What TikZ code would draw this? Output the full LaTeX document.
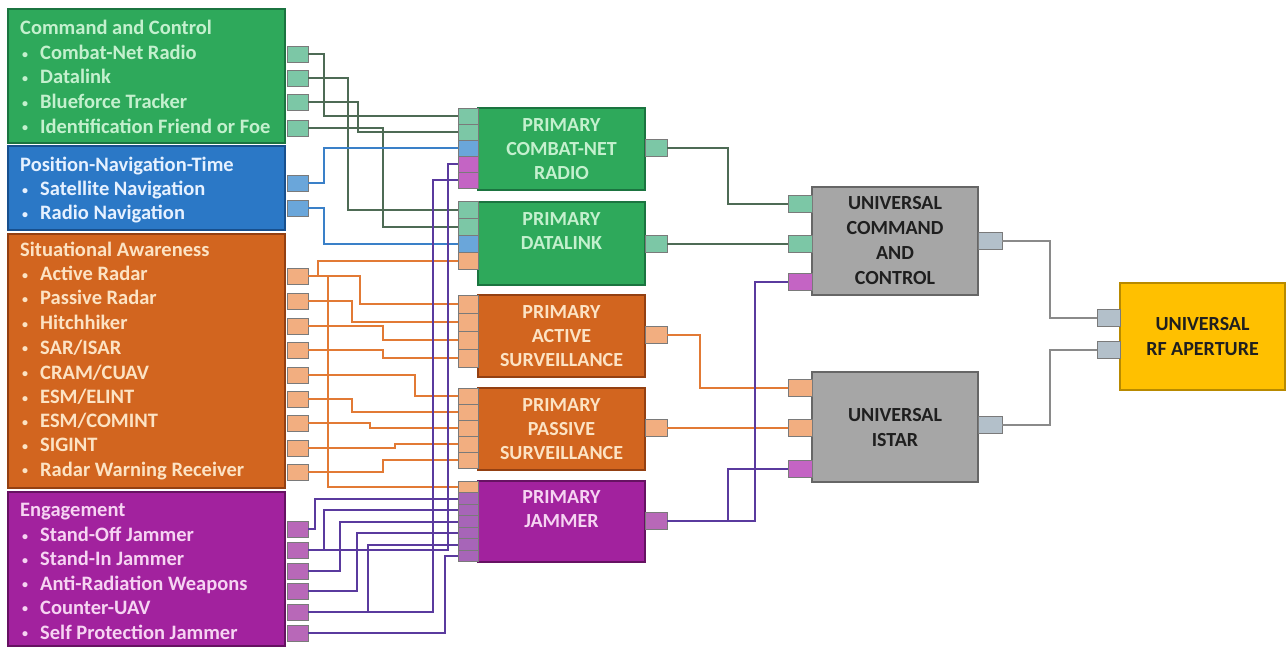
\documentclass[tikz,border=0pt]{standalone}
\usepackage{fontspec}
\setmainfont{Carlito}
\definecolor{gbox}{HTML}{2EA95B}
\definecolor{gboxd}{HTML}{1B7440}
\definecolor{gtxt}{HTML}{C4F0CE}
\definecolor{bbox}{HTML}{2B78C6}
\definecolor{bboxd}{HTML}{18508E}
\definecolor{btxt}{HTML}{E6F1FF}
\definecolor{obox}{HTML}{D2651F}
\definecolor{oboxd}{HTML}{934012}
\definecolor{otxt}{HTML}{FCE3C4}
\definecolor{mbox}{HTML}{A2229E}
\definecolor{mboxd}{HTML}{661262}
\definecolor{mtxt}{HTML}{F6D4F2}
\definecolor{graybox}{HTML}{A6A6A6}
\definecolor{grayboxd}{HTML}{666666}
\definecolor{ybox}{HTML}{FFC000}
\definecolor{yboxd}{HTML}{B88A00}
\definecolor{gpc}{HTML}{7CC7A6}
\definecolor{bpc}{HTML}{6AA6DA}
\definecolor{opc}{HTML}{F2AE80}
\definecolor{ppc}{HTML}{B868B8}
\definecolor{mpc}{HTML}{C464C4}
\definecolor{jpc}{HTML}{A765B8}
\definecolor{kpc}{HTML}{B3C0CA}
\definecolor{portb}{HTML}{7A7A7A}
\definecolor{glc}{HTML}{4E6B55}
\definecolor{blc}{HTML}{3A80C8}
\definecolor{olc}{HTML}{E27A35}
\definecolor{plc}{HTML}{5A3A9E}
\definecolor{klc}{HTML}{8A8A8A}
\tikzset{
  fnt/.style={font=\fontsize{20}{24}\selectfont\bfseries},
  lfnt/.style={font=\fontsize{20.5}{24}\selectfont\bfseries},
  panelbox/.style={line width=2pt, inner sep=0pt, minimum width=277pt},
  midbox/.style={line width=2.2pt, inner sep=0pt, minimum width=167pt},
  unibox/.style={line width=2.2pt, inner sep=0pt, minimum width=166pt, align=center, text=black!88, font=\fontsize{20}{25}\selectfont\bfseries},
  itm/.style={lfnt, anchor=base west, inner sep=0pt},
  midtxt/.style={fnt, anchor=north, align=center, inner sep=0pt},
  port/.style={draw=portb, line width=0.8pt, inner sep=0pt},
  lport/.style={port, minimum width=21pt, minimum height=16pt},
  iport/.style={port, minimum width=20pt},
  oport/.style={port, minimum width=22pt, minimum height=17pt},
  uport/.style={port, minimum width=24pt, minimum height=17pt},
  gl/.style={draw=glc, line width=2pt},
  bl/.style={draw=blc, line width=2pt},
  ol/.style={draw=olc, line width=2pt},
  pl/.style={draw=plc, line width=2pt},
  kl/.style={draw=klc, line width=2pt},
}
\newcommand{\bul}{\makebox[18pt][l]{\raisebox{1.5pt}{\fontsize{12}{12}\selectfont\textbullet}}}
\begin{document}
\begin{tikzpicture}[x=1pt,y=-1pt]
\fill[white] (0,0) rectangle (1287,649);
\useasboundingbox (0,0) rectangle (1287,649);

% ---------- left panels ----------
\node[panelbox, fill=gbox, draw=gboxd, minimum height=134pt] (ccp) at (146.5,76) {};
\node[panelbox, fill=bbox, draw=bboxd, minimum height=84pt] (pnp) at (146.5,187.5) {};
\node[panelbox, fill=obox, draw=oboxd, minimum height=254pt] (sap) at (146.5,361) {};
\node[panelbox, fill=mbox, draw=mboxd, minimum height=154pt] (enp) at (146.5,569) {};

\node[itm, text=gtxt] (cct) at (20,34.5) {Command and Control};
\node[itm, text=gtxt] (cc1) at (22,59.5) {\bul Combat-Net Radio};
\node[itm, text=gtxt] (cc2) at (22,83.5) {\bul Datalink};
\node[itm, text=gtxt] (cc3) at (22,108.5) {\bul Blueforce Tracker};
\node[itm, text=gtxt] (cc4) at (22,133) {\bul Identification Friend or Foe};

\node[itm, text=btxt] (pnt) at (20,171.5) {Position-Navigation-Time};
\node[itm, text=btxt] (pn1) at (22,195.5) {\bul Satellite Navigation};
\node[itm, text=btxt] (pn2) at (22,219.5) {\bul Radio Navigation};

\node[itm, text=otxt] (sat) at (20,256.5) {Situational Awareness};
\node[itm, text=otxt] (sa1) at (22,280.5) {\bul Active Radar};
\node[itm, text=otxt] (sa2) at (22,304.5) {\bul Passive Radar};
\node[itm, text=otxt] (sa3) at (22,329.5) {\bul Hitchhiker};
\node[itm, text=otxt] (sa4) at (22,354) {\bul SAR/ISAR};
\node[itm, text=otxt] (sa5) at (22,379) {\bul CRAM/CUAV};
\node[itm, text=otxt] (sa6) at (22,403.5) {\bul ESM/ELINT};
\node[itm, text=otxt] (sa7) at (22,427.5) {\bul ESM/COMINT};
\node[itm, text=otxt] (sa8) at (22,451.5) {\bul SIGINT};
\node[itm, text=otxt] (sa9) at (22,476) {\bul Radar Warning Receiver};

\node[itm, text=mtxt] (ent) at (20,516.5) {Engagement};
\node[itm, text=mtxt] (en1) at (22,541.5) {\bul Stand-Off Jammer};
\node[itm, text=mtxt] (en2) at (22,565.5) {\bul Stand-In Jammer};
\node[itm, text=mtxt] (en3) at (22,590) {\bul Anti-Radiation Weapons};
\node[itm, text=mtxt] (en4) at (22,614) {\bul Counter-UAV};
\node[itm, text=mtxt] (en5) at (22,639) {\bul Self Protection Jammer};

% left ports
\node[lport, fill=gpc] (gp1) at (297.5,54) {};
\node[lport, fill=gpc] (gp2) at (297.5,78) {};
\node[lport, fill=gpc] (gp3) at (297.5,102) {};
\node[lport, fill=gpc] (gp4) at (297.5,128) {};
\node[lport, fill=bpc] (bp1) at (297.5,183) {};
\node[lport, fill=bpc] (bp2) at (297.5,208) {};
\node[lport, fill=opc] (op1) at (297.5,276) {};
\node[lport, fill=opc] (op2) at (297.5,301) {};
\node[lport, fill=opc] (op3) at (297.5,326) {};
\node[lport, fill=opc] (op4) at (297.5,350) {};
\node[lport, fill=opc] (op5) at (297.5,375) {};
\node[lport, fill=opc] (op6) at (297.5,399) {};
\node[lport, fill=opc] (op7) at (297.5,423) {};
\node[lport, fill=opc] (op8) at (297.5,448) {};
\node[lport, fill=opc] (op9) at (297.5,472) {};
\node[lport, fill=ppc] (pp1) at (297.5,529) {};
\node[lport, fill=ppc] (pp2) at (297.5,550) {};
\node[lport, fill=ppc] (pp3) at (297.5,571) {};
\node[lport, fill=ppc] (pp4) at (297.5,591) {};
\node[lport, fill=ppc] (pp5) at (297.5,612) {};
\node[lport, fill=ppc] (pp6) at (297.5,633) {};

% ---------- primary boxes ----------
\node[midbox, fill=gbox, draw=gboxd, minimum height=82pt] (cnr) at (561.5,149) {};
\node[midbox, fill=gbox, draw=gboxd, minimum height=83pt] (dlk) at (561.5,243.5) {};
\node[midbox, fill=obox, draw=oboxd, minimum height=82pt] (asv) at (561.5,336) {};
\node[midbox, fill=obox, draw=oboxd, minimum height=82pt] (psv) at (561.5,429) {};
\node[midbox, fill=mbox, draw=mboxd, minimum height=81pt] (jam) at (561.5,521.5) {};

\node[midtxt, text=gtxt] (cnrt) at (561.5,118.5) {PRIMARY\\COMBAT-NET\\RADIO};
\node[midtxt, text=gtxt] (dlkt) at (561.5,212) {PRIMARY\\DATALINK};
\node[midtxt, text=otxt] (asvt) at (561.5,305.5) {PRIMARY\\ACTIVE\\SURVEILLANCE};
\node[midtxt, text=otxt] (psvt) at (561.5,398) {PRIMARY\\PASSIVE\\SURVEILLANCE};
\node[midtxt, text=mtxt] (jamt) at (561.5,490.5) {PRIMARY\\JAMMER};

% primary input ports
\node[iport, fill=gpc, minimum height=16pt] (c1) at (468,116) {};
\node[iport, fill=gpc, minimum height=16pt] (c2) at (468,132) {};
\node[iport, fill=bpc, minimum height=16pt] (c3) at (468,148) {};
\node[iport, fill=mpc, minimum height=16pt] (c4) at (468,164) {};
\node[iport, fill=mpc, minimum height=16pt] (c5) at (468,180) {};
\node[iport, fill=gpc, minimum height=17pt] (d1) at (468,210) {};
\node[iport, fill=gpc, minimum height=17pt] (d2) at (468,227) {};
\node[iport, fill=bpc, minimum height=17pt] (d3) at (468,244) {};
\node[iport, fill=opc, minimum height=17pt] (d4) at (468,261) {};
\node[iport, fill=opc, minimum height=18pt] (a1) at (468,304) {};
\node[iport, fill=opc, minimum height=18pt] (a2) at (468,322) {};
\node[iport, fill=opc, minimum height=18pt] (a3) at (468,340) {};
\node[iport, fill=opc, minimum height=18pt] (a4) at (468,358) {};
\node[iport, fill=opc, minimum height=16pt] (s1) at (468,396) {};
\node[iport, fill=opc, minimum height=16pt] (s2) at (468,412) {};
\node[iport, fill=opc, minimum height=16pt] (s3) at (468,428) {};
\node[iport, fill=opc, minimum height=16pt] (s4) at (468,444) {};
\node[iport, fill=opc, minimum height=16pt] (s5) at (468,460) {};
\node[iport, fill=opc, minimum height=11.5pt] (j1) at (468,487) {};
\node[iport, fill=jpc, minimum height=11.5pt] (j2) at (468,498.5) {};
\node[iport, fill=jpc, minimum height=11.5pt] (j3) at (468,510) {};
\node[iport, fill=jpc, minimum height=11.5pt] (j4) at (468,521.5) {};
\node[iport, fill=jpc, minimum height=11.5pt] (j5) at (468,533) {};
\node[iport, fill=jpc, minimum height=11.5pt] (j6) at (468,544.5) {};
\node[iport, fill=jpc, minimum height=11.5pt] (j7) at (468,556) {};

% primary output ports
\node[oport, fill=gpc] (cno) at (656,148) {};
\node[oport, fill=gpc] (dlo) at (656,244) {};
\node[oport, fill=opc] (aso) at (656,335) {};
\node[oport, fill=opc] (pso) at (656,428) {};
\node[oport, fill=ppc] (jmo) at (656,521) {};

% ---------- universal boxes ----------
\node[unibox, fill=graybox, draw=grayboxd, minimum height=108pt] (ucc) at (895,241) {UNIVERSAL\\COMMAND\\AND\\CONTROL};
\node[unibox, fill=graybox, draw=grayboxd, minimum height=110pt] (ist) at (895,427) {UNIVERSAL\\ISTAR};
\node[unibox, fill=ybox, draw=yboxd, minimum width=165pt, minimum height=107pt] (rfa) at (1202.5,336.5) {UNIVERSAL\\RF APERTURE};

\node[uport, fill=gpc] (u1) at (800,204) {};
\node[uport, fill=gpc] (u2) at (800,244) {};
\node[uport, fill=mpc] (u3) at (800,282) {};
\node[uport, fill=opc] (i1) at (800,388) {};
\node[uport, fill=opc] (i2) at (800,428) {};
\node[uport, fill=mpc] (i3) at (800,469) {};
\node[uport, fill=kpc] (uco) at (990,241) {};
\node[uport, fill=kpc] (iso) at (990,425) {};
\node[uport, fill=kpc, minimum width=23pt] (r1) at (1108.5,318) {};
\node[uport, fill=kpc, minimum width=23pt] (r2) at (1108.5,350) {};

% ---------- bus x-positions ----------
\coordinate (x315) at (315,0);
\coordinate (x318) at (318,0);
\coordinate (x324) at (324,0);
\coordinate (x328) at (328,0);
\coordinate (x340) at (340,0);
\coordinate (x348) at (348,0);
\coordinate (x352) at (352,0);
\coordinate (x357) at (357,0);
\coordinate (x358) at (358,0);
\coordinate (x360) at (360,0);
\coordinate (x368) at (368,0);
\coordinate (x370) at (370,0);
\coordinate (x383) at (383,0);
\coordinate (x395) at (395,0);
\coordinate (x415) at (415,0);
\coordinate (x433) at (433,0);
\coordinate (x445) at (445,0);
\coordinate (x448) at (448,0);
\coordinate (x700) at (700,0);
\coordinate (x728) at (728,0);
\coordinate (x755) at (755,0);
\coordinate (x1050) at (1050,0);

% ---------- connectors ----------
% command and control
\draw[gl] (gp1.east) -- (gp1.east -| x324) |- (c1.west);
\draw[gl] (gp2.east) -- (gp2.east -| x348) |- (d1.west);
\draw[gl] (gp3.east) -- (gp3.east -| x358) |- (c2.west);
\draw[gl] (gp4.east) -- (gp4.east -| x383) |- (d2.west);
% PNT
\draw[bl] (bp1.east) -- (bp1.east -| x324) |- (c3.west);
\draw[bl] (bp2.east) -- (bp2.east -| x324) |- (d3.west);
% situational awareness
\draw[ol] (op1.east) -- (op1.east -| x318) |- (d4.west);
\draw[ol] (op1.east) -- (op1.east -| x360) |- (a1.west);
\draw[ol] (op1.east) -- (op1.east -| x328) |- (j1.west);
\draw[ol] (op2.east) -- (op2.east -| x352) |- (a2.west);
\draw[ol] (op3.east) -- (op3.east -| x383) |- (a3.west);
\draw[ol] (op4.east) -- (op4.east -| x383) |- (a4.west);
\draw[ol] (op5.east) -- (op5.east -| x415) |- (s1.west);
\draw[ol] (op6.east) -- (op6.east -| x352) |- (s2.west);
\draw[ol] (op7.east) -- (op7.east -| x370) |- (s3.west);
\draw[ol] (op8.east) -- (op8.east -| x395) |- (s4.west);
\draw[ol] (op9.east) -- (op9.east -| x383) |- (s5.west);
% engagement
\draw[pl] (pp1.east) -- (pp1.east -| x315) |- (j2.west);
\draw[pl] (pp2.east) -- (pp2.east -| x324) |- (j3.west);
\draw[pl] (pp2.east) -- (pp2.east -| x448) |- (c4.west);
\draw[pl] (pp3.east) -- (pp3.east -| x340) |- (j4.west);
\draw[pl] (pp4.east) -- (pp4.east -| x357) |- (j5.west);
\draw[pl] (pp5.east) -- (pp5.east -| x368) |- (j6.west);
\draw[pl] (pp5.east) -- (pp5.east -| x433) |- (c5.west);
\draw[pl] (pp6.east) -- (pp6.east -| x445) |- (j7.west);
% primary -> universal
\draw[gl] (cno.east) -- (cno.east -| x728) |- (u1.west);
\draw[gl] (dlo.east) -- (u2.west);
\draw[ol] (aso.east) -- (aso.east -| x700) |- (i1.west);
\draw[ol] (pso.east) -- (i2.west);
\draw[pl] (jmo.east) -- (jmo.east -| x755) |- (u3.west);
\draw[pl] (jmo.east) -- (jmo.east -| x728) |- (i3.west);
% universal -> RF aperture
\draw[kl] (uco.east) -- (uco.east -| x1050) |- (r1.west);
\draw[kl] (iso.east) -- (iso.east -| x1050) |- (r2.west);
\end{tikzpicture}
\end{document}
